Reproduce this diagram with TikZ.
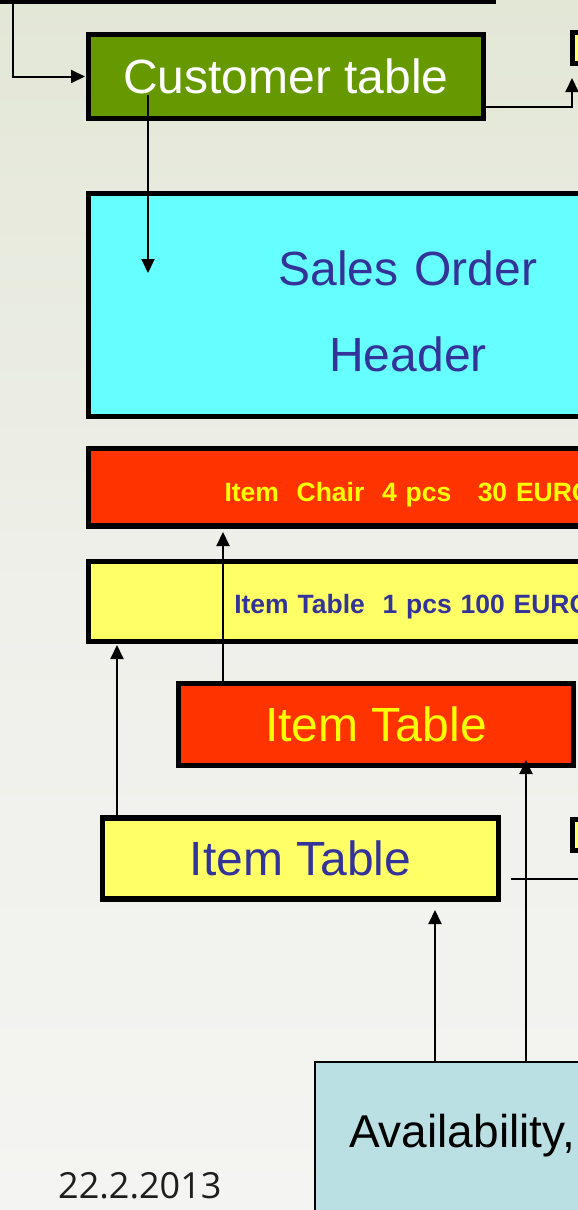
\documentclass[tikz,border=0pt]{standalone}
\usepackage{fontspec}
\setmainfont{Liberation Sans}
\newfontfamily\datefont{Open Sans}
\usetikzlibrary{arrows.meta,calc}
\definecolor{boxgreen}{HTML}{669900}
\definecolor{boxcyan}{HTML}{66FFFF}
\definecolor{boxred}{HTML}{FF3300}
\definecolor{boxyellow}{HTML}{FFFF66}
\definecolor{txtblue}{HTML}{333399}
\definecolor{txtyellow}{HTML}{FFFF00}
\definecolor{boxlblue}{HTML}{BAE0E4}
\definecolor{bgtop}{HTML}{E3E7D6}
\definecolor{bgmid}{HTML}{EFF0EA}
\definecolor{bgbot}{HTML}{F4F4F2}
\definecolor{datecol}{HTML}{1E1E1E}
\begin{document}
\begin{tikzpicture}[x=1pt,y=-1pt,
  box/.style={draw=black, line width=5.5pt, inner sep=0pt, outer sep=0pt, rectangle},
  thinbox/.style={draw=black, line width=1.5pt, outer sep=0pt, rectangle},
  conn/.style={draw=black, line width=2pt},
  arr/.style={conn, -{Triangle[length=14pt,width=13pt]}},
  bigtxt/.style={font=\fontsize{48}{86}\selectfont},
  smalltxt/.style={font=\fontsize{26.5}{30}\selectfont\bfseries}]
\useasboundingbox (0,0) rectangle (578,1210);
\clip (0,0) rectangle (578,1210);
\shade[top color=bgtop, bottom color=bgbot, middle color=bgmid] (0,0) rectangle (578,1210);

% nodes
\node[box, fill=boxgreen, minimum width=496pt, minimum height=60pt, anchor=south west] (topbar) at (-2.5,1) {};
\node[box, fill=boxgreen, minimum width=395pt, minimum height=84pt, text=white, bigtxt] (cust) at (286,76.5) {Customer table};
\node[box, fill=boxyellow, minimum width=60pt, minimum height=31pt, anchor=north west] (smalltop) at (572.5,32.5) {};
\node[box, fill=boxcyan, anchor=north west, text width=639pt, align=center, text height=91.5pt, text depth=131.5pt, text=txtblue, bigtxt] (sales) at (88.5,193.5) {Sales Order\\Header};
\node[box, fill=boxred, anchor=north west, inner xsep=136pt, text width=520pt, align=left, text height=52.5pt, text depth=25pt, text=txtyellow, smalltxt] (chair) at (88.5,448.5) {Item~~Chair~~4 pcs~~~30 EURO};
\node[box, fill=boxyellow, anchor=north west, inner xsep=145.8pt, text width=520pt, align=left, text height=51.5pt, text depth=28.5pt, text=txtblue, smalltxt] (tablebar) at (88.5,561.5) {Item Table~~1 pcs 100 EURO};
\node[box, fill=boxred, minimum width=395pt, minimum height=82pt, text=txtyellow, bigtxt] (reditem) at (376,724.5) {Item Table};
\node[box, fill=boxyellow, minimum width=396pt, minimum height=81pt, text=txtblue, bigtxt] (yitem) at (300.5,858.5) {Item Table};
\node[box, fill=boxyellow, minimum width=60pt, minimum height=31pt, anchor=north west] (smallbot) at (572.5,819.5) {};
\node[thinbox, fill=boxlblue, anchor=north west, inner ysep=0pt, inner xsep=34pt, text width=417pt, align=left, text height=85pt, text depth=100pt, text=black, font=\fontsize{46}{50}\selectfont] (avail) at (315,1062) {Availability,};
\node[anchor=base west, inner sep=0pt, text=datecol, font=\datefont\fontsize{36}{40}\selectfont] (date) at (58,1198) {22.2.2013};

% connectors
\draw[arr, shorten >=3.5pt] ([xshift=15.5pt]topbar.south west) |- (cust.west);
\draw[arr, shorten >=14.5pt] ([yshift=-30.5pt]cust.east) -| ([xshift=-0.5pt]smalltop.south west);
\draw[arr] ([xshift=59.5pt,yshift=23.5pt]cust.south west) -- ([xshift=59.5pt,yshift=-79.5pt]sales.north west);
\coordinate (r1) at ([xshift=44.5pt]reditem.north west);
\draw[arr, shorten >=6pt] (r1) -- (r1 |- chair.south);
\coordinate (y1) at ([xshift=14.5pt]yitem.north west);
\draw[arr, shorten >=3.5pt] (y1) -- (y1 |- tablebar.south);
\coordinate (a1) at ([xshift=211pt]avail.north west);
\draw[arr, shorten >=-5.5pt] (a1) -- (a1 |- reditem.south);
\coordinate (a2) at ([xshift=120pt]avail.north west);
\draw[arr, shorten >=11pt] (a2) -- (a2 |- yitem.south);
\coordinate (offr) at (600,879);
\draw[conn] ([xshift=12.5pt,yshift=-20.5pt]yitem.east) -- (offr);
\end{tikzpicture}
\end{document}
